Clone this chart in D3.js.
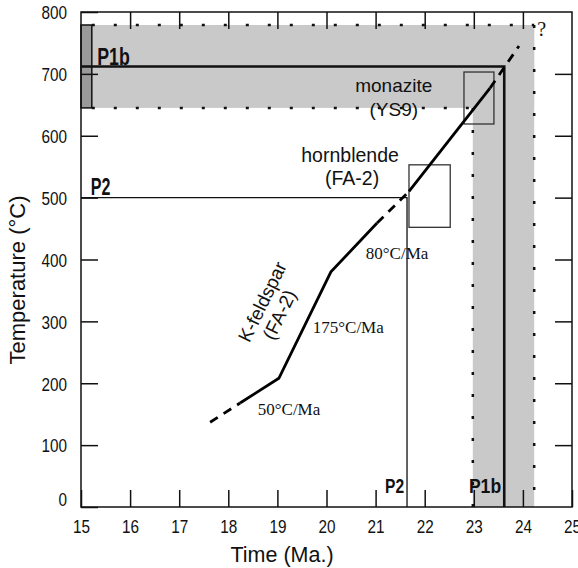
<!DOCTYPE html>
<html lang="en">
    <head>
        <meta charset="utf-8">
        <title>Cooling path</title>
        <script src="https://cdn.jsdelivr.net/npm/d3@7/dist/d3.min.js" charset="utf-8"></script>
        <style type="text/css">
            body { margin: 0; background: #fff; }
            .sans { font-family: "Liberation Sans", Arial, sans-serif; }
            .serif { font-family: "Liberation Serif", "Times New Roman", serif; }
        </style>
    </head>
    <body>
        <svg width="578" height="568"></svg>
        <script>
            // Datos
            var timeTicks = [15, 16, 17, 18, 19, 20, 21, 22, 23, 24, 25];
            var tempTicks = [0, 100, 200, 300, 400, 500, 600, 700, 800];

            // Bandas sombreadas P1b (tiempo, temperatura)
            var bandTop = 779, bandBottom = 645;
            var bandLeftTime = 22.98, bandRightTime = 24.23;
            var darkBox = [15, 15.22];

            // Lineas P1b y P2: [tiempo, temperatura] de la esquina
            var p1bCorner = [23.62, 712];
            var p2Corner = [21.64, 500];

            // Cajas de edad
            var monaziteBox = {t0: 22.80, t1: 23.41, T0: 619, T1: 703};
            var hornblendeBox = {t0: 21.68, t1: 22.52, T0: 452, T1: 553};

            // Trayectoria de enfriamiento
            var pathSegments = [
                {dashed: true,  pts: [[17.63, 137], [18.24, 168]]},
                {dashed: false, pts: [[18.24, 168], [19.03, 208], [20.09, 380], [21.03, 459]]},
                {dashed: true,  pts: [[21.03, 459], [21.68, 510]]},
                {dashed: false, pts: [[21.68, 510], [23.33, 677]]},
                {dashed: true,  pts: [[23.33, 677], [23.92, 745]]}
            ];

            var rateLabels = [
                {text: "80°C/Ma",  t: 20.80, T: 401},
                {text: "175°C/Ma", t: 19.72, T: 281},
                {text: "50°C/Ma",  t: 18.60, T: 149}
            ];

            var svg = d3.select("svg");
            var x = d3.scaleLinear().domain([15, 25]).range([81, 572]);
            var y = d3.scaleLinear().domain([0, 800]).range([507, 12]);
            var g = svg.append("g");

            // Sombreado
            var gray = "#c9c9c9";
            g.append("rect")
                .attr("x", x(15)).attr("y", y(bandTop))
                .attr("width", x(bandRightTime) - x(15))
                .attr("height", y(bandBottom) - y(bandTop))
                .attr("fill", gray);
            g.append("rect")
                .attr("x", x(bandLeftTime)).attr("y", y(bandTop))
                .attr("width", x(bandRightTime) - x(bandLeftTime))
                .attr("height", y(0) - y(bandTop))
                .attr("fill", gray);

            // Bordes punteados
            var dots = [
                [[darkBox[1], bandTop], [bandRightTime, bandTop]],
                [[bandRightTime, bandTop], [bandRightTime, 0]],
                [[darkBox[1], bandBottom], [bandLeftTime, bandBottom]],
                [[bandLeftTime, bandBottom], [bandLeftTime, 0]]
            ];
            g.selectAll(".dots").data(dots).enter().append("line")
                .attr("x1", function(d) { return x(d[0][0]); })
                .attr("y1", function(d) { return y(d[0][1]); })
                .attr("x2", function(d) { return x(d[1][0]); })
                .attr("y2", function(d) { return y(d[1][1]); })
                .attr("stroke", "#111")
                .attr("stroke-width", 2.5)
                .attr("stroke-dasharray", "3,19");

            // Caja oscura a la izquierda
            g.append("rect")
                .attr("x", x(darkBox[0])).attr("y", y(bandTop))
                .attr("width", x(darkBox[1]) - x(darkBox[0]))
                .attr("height", y(bandBottom) - y(bandTop))
                .attr("fill", "#9a9a9a")
                .attr("stroke", "#111").attr("stroke-width", 1.5);

            // Lineas P2 y P1b
            g.append("path")
                .attr("d", d3.line()([[x(15), y(p2Corner[1])], [x(p2Corner[0]), y(p2Corner[1])], [x(p2Corner[0]), y(0)]]))
                .attr("fill", "none").attr("stroke", "#111").attr("stroke-width", 1.3);
            g.append("path")
                .attr("d", d3.line()([[x(15), y(p1bCorner[1])], [x(p1bCorner[0]), y(p1bCorner[1])], [x(p1bCorner[0]), y(0)]]))
                .attr("fill", "none").attr("stroke", "#111").attr("stroke-width", 2.6);

            // Cajas
            [monaziteBox, hornblendeBox].forEach(function(b) {
                g.append("rect")
                    .attr("x", x(b.t0)).attr("y", y(b.T1))
                    .attr("width", x(b.t1) - x(b.t0))
                    .attr("height", y(b.T0) - y(b.T1))
                    .attr("fill", "none")
                    .attr("stroke", "#333").attr("stroke-width", 1.3);
            });

            // Trayectoria
            var line = d3.line().x(function(d) { return x(d[0]); }).y(function(d) { return y(d[1]); });
            g.selectAll(".seg").data(pathSegments).enter().append("path")
                .attr("d", function(d) { return line(d.pts); })
                .attr("fill", "none")
                .attr("stroke", "#000")
                .attr("stroke-width", 2.8)
                .attr("stroke-dasharray", function(d) { return d.dashed ? "9,7" : null; });

            // Ejes con ticks hacia adentro en los cuatro lados
            g.append("rect")
                .attr("x", x(15)).attr("y", y(800))
                .attr("width", x(25) - x(15)).attr("height", y(0) - y(800))
                .attr("fill", "none").attr("stroke", "#111").attr("stroke-width", 1.5);

            function styleAxis(sel) {
                sel.attr("font-family", null);
                sel.select(".domain").remove();
                sel.selectAll(".tick line").attr("stroke", "#111").attr("stroke-width", 1.5);
            }
            var sx = 0.85;
            g.append("g").attr("transform", "translate(0," + y(0) + ")")
                .call(d3.axisBottom(x).tickValues(timeTicks).tickSizeInner(-17))
                .call(styleAxis)
                .selectAll("text").attr("class", "sans").attr("font-size", 18).attr("fill", "#111")
                .attr("y", 13).attr("dy", "0.71em")
                .attr("transform", "scale(" + sx + ",1)");
            g.append("g").attr("transform", "translate(0," + y(800) + ")")
                .call(d3.axisTop(x).tickValues(timeTicks.slice(1, -1)).tickSizeInner(-17).tickFormat(""))
                .call(styleAxis);
            g.append("g").attr("transform", "translate(" + x(15) + ",0)")
                .call(d3.axisLeft(y).tickValues(tempTicks).tickSizeInner(-17))
                .call(styleAxis)
                .selectAll("text").attr("class", "sans").attr("font-size", 18).attr("fill", "#111")
                .attr("x", -14 / sx)
                .attr("dy", function(d) { return d === 0 ? "-0.1em" : "0.38em"; })
                .attr("transform", "scale(" + sx + ",1)");
            g.append("g").attr("transform", "translate(" + x(25) + ",0)")
                .call(d3.axisRight(y).tickValues(tempTicks.slice(1, -1)).tickSizeInner(-17).tickFormat(""))
                .call(styleAxis);

            // Titulos de ejes
            g.append("text").attr("class", "sans")
                .attr("x", 282).attr("y", 562)
                .attr("text-anchor", "middle").attr("font-size", 21.5).attr("fill", "#111")
                .text("Time (Ma.)");
            g.append("text").attr("class", "sans")
                .attr("transform", "translate(25,280) rotate(-90)")
                .attr("text-anchor", "middle").attr("font-size", 22).attr("fill", "#111")
                .text("Temperature (°C)");

            // Etiquetas
            function label(txt, t, T, cls, size, anchor, weight, scaleX) {
                var s = scaleX || 1;
                return g.append("text").attr("class", cls)
                    .attr("transform", "translate(" + x(t) + "," + y(T) + ") scale(" + s + ",1)")
                    .attr("font-size", size)
                    .attr("text-anchor", anchor || "start")
                    .attr("font-weight", weight || "normal")
                    .attr("fill", "#111")
                    .text(txt);
            }
            label("P1b", 15.33, 714, "sans", 24, "start", "bold", 0.74);
            label("P2", 15.2, 504, "sans", 23, "start", "bold", 0.7);
            label("P2", 21.58, 23, "sans", 20, "end", "bold", 0.78);
            label("P1b", 22.90, 23, "sans", 20, "start", "bold", 0.88);
            label("monazite", 21.37, 670, "sans", 19, "middle");
            label("(YS9)", 21.37, 632, "sans", 19, "middle");
            label("hornblende", 20.48, 557, "sans", 19.5, "middle");
            label("(FA-2)", 20.52, 520, "sans", 19.5, "middle");
            label("?", 24.29, 761, "serif", 20, "start");
            rateLabels.forEach(function(d) { label(d.text, d.t, d.T, "serif", 17, "start"); });

            var kf = g.append("text").attr("class", "sans")
                .attr("transform", "translate(" + x(18.71) + "," + y(331) + ") rotate(-64)")
                .attr("font-size", 19).attr("text-anchor", "middle").attr("fill", "#111");
            kf.append("tspan").attr("x", 0).attr("dy", "0.3em").text("K-feldspar");
            kf.append("tspan").attr("x", -4).attr("dy", "1.1em").text("(FA-2)");
        </script>
    </body>
</html>
